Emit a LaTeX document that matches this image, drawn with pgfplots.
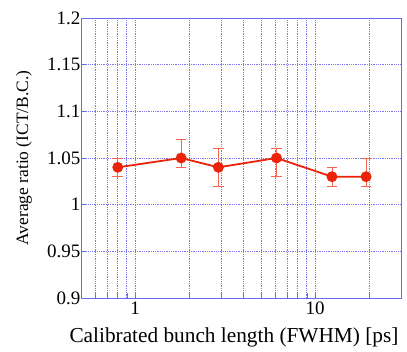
\documentclass[border=0pt]{standalone}
\usepackage{pgfplots}
\pgfplotsset{compat=1.18}
\usepackage{fontspec}
\setmainfont{Liberation Serif}
\definecolor{axblue}{RGB}{105,105,235}
\definecolor{gridblue}{RGB}{120,120,242}
\definecolor{pred}{RGB}{235,35,10}
\definecolor{ered}{RGB}{245,100,80}
\begin{document}
\begin{tikzpicture}
\useasboundingbox (-81pt,-53pt) rectangle (326pt,298pt);
\begin{axis}[
  scale only axis, width=320pt, height=280pt,
  xmode=log, xmin=0.5, xmax=30,
  ymin=0.9, ymax=1.2,
  ytick={0.9,0.95,1,1.05,1.1,1.15,1.2},
  yticklabels={0.9,0.95,1,1.05,1.1,1.15,1.2},
  xtick={1,10}, xticklabels={1,10},
  minor xtick={0.5,0.6,0.7,0.8,0.9,2,3,4,5,6,7,8,9,20,30},
  xmajorgrids=true, xminorgrids=true, ymajorgrids=true,
  every axis x grid/.style={draw=gridblue, dash pattern=on 0.9pt off 0.9pt, line width=0.9pt},
  every axis y grid/.style={draw=gridblue, dash pattern=on 0.9pt off 0.9pt, line width=0.9pt},
  major grid style={draw=gridblue, dash pattern=on 0.9pt off 0.9pt, line width=0.9pt},
  minor grid style={draw=gridblue, dash pattern=on 0.9pt off 0.9pt, line width=0.9pt},
  axis line style={axblue, line width=0.9pt},
  tick style={axblue, line width=0.6pt},
  major tick length=5pt, minor tick length=5pt,
  tick align=inside,
  xtick pos=bottom, ytick pos=left,
  /pgf/number format/assume math mode=true,
  tick label style={font=\fontsize{19}{19}\selectfont, black},
  yticklabel style={xshift=3pt},
  xlabel={Calibrated bunch length (FWHM) [ps]},
  ylabel={Average ratio (ICT/B.C.)},
  xlabel style={font=\fontsize{21.3}{21.3}\selectfont, at={(axis description cs:0.478,-0.139)}, anchor=center},
  ylabel style={font=\fontsize{17.4}{17.4}\selectfont, at={(axis description cs:-0.178,0.5)}, anchor=center},
]
\addplot+[pred, line width=1.8pt, mark=*, mark size=4.5pt,
  mark options={pred, fill=pred, solid},
  error bars/.cd, y dir=both, y explicit,
  error bar style={ered, line width=0.8pt},
  error mark options={ered, rotate=90, mark size=5.3pt, line width=0.8pt}]
table[x=x, y=y, y error plus=ep, y error minus=em] {
x y ep em
0.80 1.04 0.01 0.01
1.8 1.05 0.02 0.01
2.9 1.04 0.02 0.02
6.1 1.05 0.01 0.02
12.4 1.03 0.01 0.01
19.2 1.03 0.02 0.01
};
\end{axis}
\end{tikzpicture}
\end{document}
